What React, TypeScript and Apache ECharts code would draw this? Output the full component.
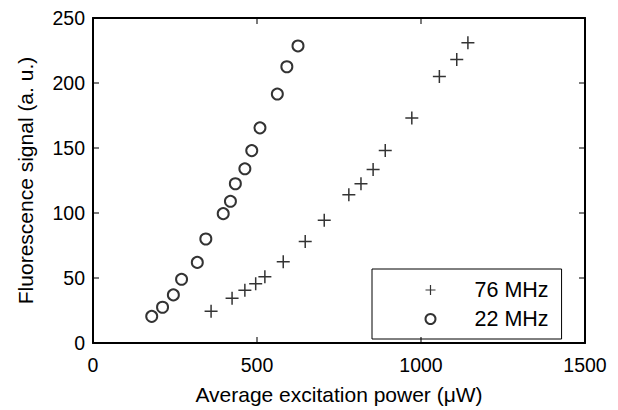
import React, { useEffect, useRef } from "react";
import * as echarts from "echarts";

const seriesNames = ["76 MHz", "22 MHz"];

const power76 = [360, 424, 463, 496, 524, 580, 647, 705, 780, 817, 854, 891, 972, 1056, 1109, 1143];
const signal76 = [24.5, 34.5, 40.5, 45.5, 51, 62.5, 78, 94.5, 114, 122.5, 133.5, 148, 173, 205, 218, 231];

const power22 = [179, 212, 245, 270, 318, 344, 397, 419, 434, 463, 484, 509, 562, 591, 625];
const signal22 = [20.5, 27.5, 37, 49, 62, 80, 99.5, 109, 122.5, 134, 148, 165.5, 191.5, 212.5, 228.5];

const xTicks = [0, 500, 1000, 1500];
const yTicks = [0, 50, 100, 150, 200, 250];

const FONT = "Liberation Sans, Arial, Helvetica, sans-serif";
const PLUS = "path://M0,6L12,6M6,0L6,12";

export default function App() {
  const ref = useRef<HTMLDivElement>(null);
  useEffect(() => {
    if (!ref.current) return;
    const chart = echarts.init(ref.current, undefined, { renderer: "svg" });
    const xMin = xTicks[0];
    const xMax = xTicks[xTicks.length - 1];
    const yMin = yTicks[0];
    const yMax = yTicks[yTicks.length - 1];
    const innerX = xTicks.slice(1, -1);
    const innerY = yTicks.slice(1, -1);
    const TL = 6;
    const tickSeries = (data: number[][], size: number[], offset: number[]) => ({
      type: "scatter",
      silent: true,
      clip: false,
      symbol: "rect",
      symbolSize: size,
      symbolOffset: offset,
      itemStyle: { color: "#000" },
      z: 5,
      data,
    });
    const axisCommon = {
      axisLine: { show: true, onZero: false, lineStyle: { color: "#000", width: 2 } },
      axisTick: { show: false },
      splitLine: { show: false },
    };
    chart.setOption({
      animation: false,
      backgroundColor: "#fff",
      textStyle: { fontFamily: FONT, color: "#000" },
      grid: { left: 93, top: 18, right: 33, bottom: 62 },
      xAxis: [
        {
          type: "value",
          position: "bottom",
          min: xMin,
          max: xMax,
          interval: 500,
          ...axisCommon,
          axisLabel: {
            show: true,
            color: "#000",
            fontSize: 19.5,
            fontFamily: FONT,
            margin: 12,
            formatter: (v: number) => String(v),
          },
          name: "Average excitation power (\u03bcW)",
          nameLocation: "middle",
          nameGap: 41,
          nameTextStyle: { color: "#000", fontSize: 21, fontFamily: FONT },
        },
        {
          type: "value",
          position: "top",
          min: xMin,
          max: xMax,
          interval: 500,
          ...axisCommon,
          axisLabel: { show: false },
        },
      ],
      yAxis: [
        {
          type: "value",
          position: "left",
          min: yMin,
          max: yMax,
          interval: 50,
          ...axisCommon,
          axisLabel: {
            show: true,
            color: "#000",
            fontSize: 19.5,
            fontFamily: FONT,
            margin: 8,
            formatter: (v: number) => String(v),
          },
          name: "Fluorescence signal (a. u.)",
          nameLocation: "middle",
          nameGap: 57,
          nameTextStyle: { color: "#000", fontSize: 21, fontFamily: FONT },
        },
        {
          type: "value",
          position: "right",
          min: yMin,
          max: yMax,
          interval: 50,
          ...axisCommon,
          axisLabel: { show: false },
        },
      ],
      legend: {
        orient: "vertical",
        left: 372,
        top: 269,
        padding: [10, 13, 9, 51],
        itemGap: 7,
        itemWidth: 10,
        itemHeight: 10,
        backgroundColor: "#fff",
        borderColor: "#000",
        borderWidth: 1,
        borderRadius: 0,
        textStyle: { color: "#000", fontSize: 21.5, fontFamily: FONT, padding: [0, 0, 0, 34] },
        data: [
          { name: seriesNames[0], icon: PLUS, itemStyle: { color: "none", borderColor: "#000", borderWidth: 1.2 } },
          { name: seriesNames[1], icon: "emptyCircle", itemStyle: { color: "#000", borderColor: "#000", borderWidth: 1.2 } },
        ],
      },
      series: [
        {
          name: seriesNames[0],
          type: "scatter",
          symbol: PLUS,
          symbolSize: 13,
          itemStyle: { color: "none", borderColor: "#000", borderWidth: 1.5 },
          data: power76.map((x, i) => [x, signal76[i]]),
        },
        {
          name: seriesNames[1],
          type: "scatter",
          symbol: "emptyCircle",
          symbolSize: 11,
          itemStyle: { color: "#000", borderColor: "#000", borderWidth: 1.3 },
          data: power22.map((x, i) => [x, signal22[i]]),
        },
        tickSeries(innerX.map((v) => [v, yMin]), [1.3, TL], [0, -TL / 2]),
        tickSeries(innerX.map((v) => [v, yMax]), [1.3, TL], [0, TL / 2]),
        tickSeries(innerY.map((v) => [xMin, v]), [TL, 1.3], [TL / 2, 0]),
        tickSeries(innerY.map((v) => [xMax, v]), [TL, 1.3], [-TL / 2, 0]),
      ],
    });
    return () => chart.dispose();
  }, []);
  return (
    <div
      ref={ref}
      style={{ position: "absolute", left: 0, top: 0, width: 618, height: 410 }}
    />
  );
}
